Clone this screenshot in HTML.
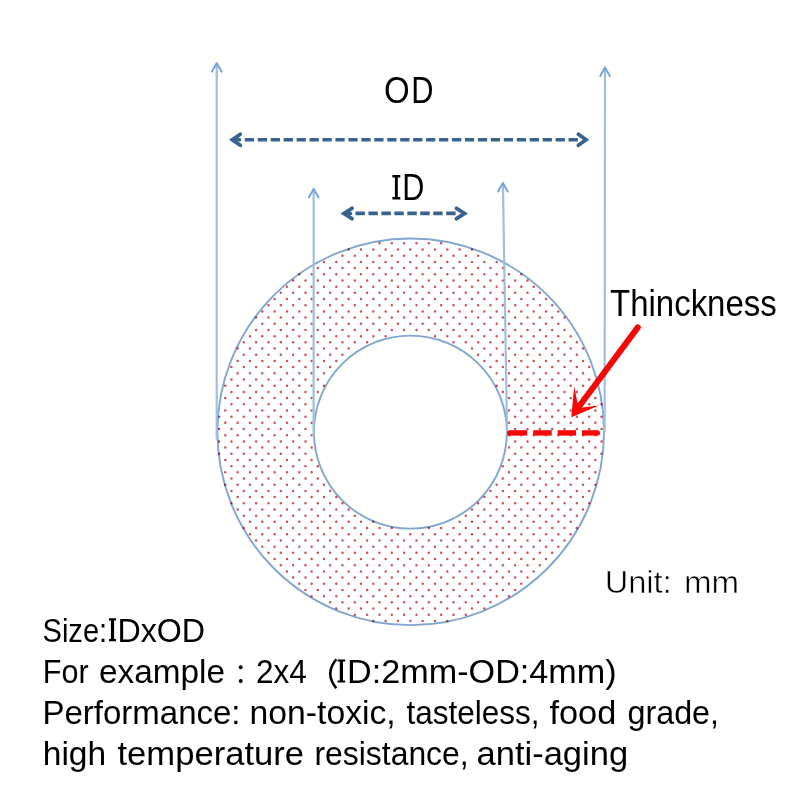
<!DOCTYPE html>
<html>
<head>
<meta charset="utf-8">
<style>
html,body{margin:0;padding:0;background:#fff;width:800px;height:800px;overflow:hidden;}
svg{display:block;}
text{font-family:"Liberation Sans", sans-serif;fill:#000;}
</style>
</head>
<body>
<svg width="800" height="800" viewBox="0 0 800 800">
<rect width="800" height="800" fill="#fff"/>
<circle cx="410.7" cy="431.8" r="193.3" fill="none" stroke="#82a6d0" stroke-width="1.9"/>
<circle cx="410.4" cy="432.1" r="96.5" fill="none" stroke="#82a6d0" stroke-width="1.9"/>
<path fill="none" stroke="#cc5058" stroke-width="2.5" stroke-linecap="round" style="mix-blend-mode:multiply" d="M379.48 243.32h0M391.81 243.32h0M404.14 243.32h0M416.48 243.32h0M428.82 243.32h0M441.15 243.32h0M348.64 249.51h0M360.97 249.51h0M373.31 249.51h0M385.64 249.51h0M397.98 249.51h0M410.31 249.51h0M422.65 249.51h0M434.98 249.51h0M447.32 249.51h0M459.65 249.51h0M471.99 249.51h0M342.47 255.70h0M354.81 255.70h0M367.14 255.70h0M379.48 255.70h0M391.81 255.70h0M404.14 255.70h0M416.48 255.70h0M428.82 255.70h0M441.15 255.70h0M453.49 255.70h0M465.82 255.70h0M478.16 255.70h0M323.97 261.89h0M336.30 261.89h0M348.64 261.89h0M360.97 261.89h0M373.31 261.89h0M385.64 261.89h0M397.98 261.89h0M410.31 261.89h0M422.65 261.89h0M434.98 261.89h0M447.32 261.89h0M459.65 261.89h0M471.99 261.89h0M484.32 261.89h0M496.66 261.89h0M317.80 268.08h0M330.13 268.08h0M342.47 268.08h0M354.81 268.08h0M367.14 268.08h0M379.48 268.08h0M391.81 268.08h0M404.14 268.08h0M416.48 268.08h0M428.82 268.08h0M441.15 268.08h0M453.49 268.08h0M465.82 268.08h0M478.16 268.08h0M490.49 268.08h0M502.83 268.08h0M299.30 274.27h0M311.63 274.27h0M323.97 274.27h0M336.30 274.27h0M348.64 274.27h0M360.97 274.27h0M373.31 274.27h0M385.64 274.27h0M397.98 274.27h0M410.31 274.27h0M422.65 274.27h0M434.98 274.27h0M447.32 274.27h0M459.65 274.27h0M471.99 274.27h0M484.32 274.27h0M496.66 274.27h0M508.99 274.27h0M521.33 274.27h0M293.13 280.46h0M305.47 280.46h0M317.80 280.46h0M330.13 280.46h0M342.47 280.46h0M354.81 280.46h0M367.14 280.46h0M379.48 280.46h0M391.81 280.46h0M404.14 280.46h0M416.48 280.46h0M428.82 280.46h0M441.15 280.46h0M453.49 280.46h0M465.82 280.46h0M478.16 280.46h0M490.49 280.46h0M502.83 280.46h0M515.16 280.46h0M527.50 280.46h0M286.96 286.65h0M299.30 286.65h0M311.63 286.65h0M323.97 286.65h0M336.30 286.65h0M348.64 286.65h0M360.97 286.65h0M373.31 286.65h0M385.64 286.65h0M397.98 286.65h0M410.31 286.65h0M422.65 286.65h0M434.98 286.65h0M447.32 286.65h0M459.65 286.65h0M471.99 286.65h0M484.32 286.65h0M496.66 286.65h0M508.99 286.65h0M521.33 286.65h0M533.66 286.65h0M280.80 292.84h0M293.13 292.84h0M305.47 292.84h0M317.80 292.84h0M330.13 292.84h0M342.47 292.84h0M354.81 292.84h0M367.14 292.84h0M379.48 292.84h0M391.81 292.84h0M404.14 292.84h0M416.48 292.84h0M428.82 292.84h0M441.15 292.84h0M453.49 292.84h0M465.82 292.84h0M478.16 292.84h0M490.49 292.84h0M502.83 292.84h0M515.16 292.84h0M527.50 292.84h0M539.83 292.84h0M274.63 299.03h0M286.96 299.03h0M299.30 299.03h0M311.63 299.03h0M323.97 299.03h0M336.30 299.03h0M348.64 299.03h0M360.97 299.03h0M373.31 299.03h0M385.64 299.03h0M397.98 299.03h0M410.31 299.03h0M422.65 299.03h0M434.98 299.03h0M447.32 299.03h0M459.65 299.03h0M471.99 299.03h0M484.32 299.03h0M496.66 299.03h0M508.99 299.03h0M521.33 299.03h0M533.66 299.03h0M546.00 299.03h0M268.46 305.22h0M280.80 305.22h0M293.13 305.22h0M305.47 305.22h0M317.80 305.22h0M330.13 305.22h0M342.47 305.22h0M354.81 305.22h0M367.14 305.22h0M379.48 305.22h0M391.81 305.22h0M404.14 305.22h0M416.48 305.22h0M428.82 305.22h0M441.15 305.22h0M453.49 305.22h0M465.82 305.22h0M478.16 305.22h0M490.49 305.22h0M502.83 305.22h0M515.16 305.22h0M527.50 305.22h0M539.83 305.22h0M552.16 305.22h0M262.29 311.41h0M274.63 311.41h0M286.96 311.41h0M299.30 311.41h0M311.63 311.41h0M323.97 311.41h0M336.30 311.41h0M348.64 311.41h0M360.97 311.41h0M373.31 311.41h0M385.64 311.41h0M397.98 311.41h0M410.31 311.41h0M422.65 311.41h0M434.98 311.41h0M447.32 311.41h0M459.65 311.41h0M471.99 311.41h0M484.32 311.41h0M496.66 311.41h0M508.99 311.41h0M521.33 311.41h0M533.66 311.41h0M546.00 311.41h0M558.33 311.41h0M256.12 317.60h0M268.46 317.60h0M280.80 317.60h0M293.13 317.60h0M305.47 317.60h0M317.80 317.60h0M330.13 317.60h0M342.47 317.60h0M354.81 317.60h0M367.14 317.60h0M379.48 317.60h0M391.81 317.60h0M404.14 317.60h0M416.48 317.60h0M428.82 317.60h0M441.15 317.60h0M453.49 317.60h0M465.82 317.60h0M478.16 317.60h0M490.49 317.60h0M502.83 317.60h0M515.16 317.60h0M527.50 317.60h0M539.83 317.60h0M552.16 317.60h0M564.50 317.60h0M262.29 323.79h0M274.63 323.79h0M286.96 323.79h0M299.30 323.79h0M311.63 323.79h0M323.97 323.79h0M336.30 323.79h0M348.64 323.79h0M360.97 323.79h0M373.31 323.79h0M385.64 323.79h0M397.98 323.79h0M410.31 323.79h0M422.65 323.79h0M434.98 323.79h0M447.32 323.79h0M459.65 323.79h0M471.99 323.79h0M484.32 323.79h0M496.66 323.79h0M508.99 323.79h0M521.33 323.79h0M533.66 323.79h0M546.00 323.79h0M558.33 323.79h0M256.12 329.98h0M268.46 329.98h0M280.80 329.98h0M293.13 329.98h0M305.47 329.98h0M317.80 329.98h0M330.13 329.98h0M342.47 329.98h0M354.81 329.98h0M367.14 329.98h0M379.48 329.98h0M391.81 329.98h0M404.14 329.98h0M416.48 329.98h0M428.82 329.98h0M441.15 329.98h0M453.49 329.98h0M465.82 329.98h0M478.16 329.98h0M490.49 329.98h0M502.83 329.98h0M515.16 329.98h0M527.50 329.98h0M539.83 329.98h0M552.16 329.98h0M564.50 329.98h0M249.96 336.17h0M262.29 336.17h0M274.63 336.17h0M286.96 336.17h0M299.30 336.17h0M311.63 336.17h0M323.97 336.17h0M336.30 336.17h0M348.64 336.17h0M360.97 336.17h0M373.31 336.17h0M385.64 336.17h0M434.98 336.17h0M447.32 336.17h0M459.65 336.17h0M471.99 336.17h0M484.32 336.17h0M496.66 336.17h0M508.99 336.17h0M521.33 336.17h0M533.66 336.17h0M546.00 336.17h0M558.33 336.17h0M570.67 336.17h0M243.79 342.36h0M256.12 342.36h0M268.46 342.36h0M280.80 342.36h0M293.13 342.36h0M305.47 342.36h0M317.80 342.36h0M330.13 342.36h0M342.47 342.36h0M354.81 342.36h0M367.14 342.36h0M453.49 342.36h0M465.82 342.36h0M478.16 342.36h0M490.49 342.36h0M502.83 342.36h0M515.16 342.36h0M527.50 342.36h0M539.83 342.36h0M552.16 342.36h0M564.50 342.36h0M576.84 342.36h0M237.62 348.55h0M249.96 348.55h0M262.29 348.55h0M274.63 348.55h0M286.96 348.55h0M299.30 348.55h0M311.63 348.55h0M323.97 348.55h0M336.30 348.55h0M348.64 348.55h0M471.99 348.55h0M484.32 348.55h0M496.66 348.55h0M508.99 348.55h0M521.33 348.55h0M533.66 348.55h0M546.00 348.55h0M558.33 348.55h0M570.67 348.55h0M583.00 348.55h0M243.79 354.74h0M256.12 354.74h0M268.46 354.74h0M280.80 354.74h0M293.13 354.74h0M305.47 354.74h0M317.80 354.74h0M330.13 354.74h0M342.47 354.74h0M478.16 354.74h0M490.49 354.74h0M502.83 354.74h0M515.16 354.74h0M527.50 354.74h0M539.83 354.74h0M552.16 354.74h0M564.50 354.74h0M576.84 354.74h0M237.62 360.93h0M249.96 360.93h0M262.29 360.93h0M274.63 360.93h0M286.96 360.93h0M299.30 360.93h0M311.63 360.93h0M323.97 360.93h0M336.30 360.93h0M484.32 360.93h0M496.66 360.93h0M508.99 360.93h0M521.33 360.93h0M533.66 360.93h0M546.00 360.93h0M558.33 360.93h0M570.67 360.93h0M583.00 360.93h0M231.46 367.12h0M243.79 367.12h0M256.12 367.12h0M268.46 367.12h0M280.80 367.12h0M293.13 367.12h0M305.47 367.12h0M317.80 367.12h0M330.13 367.12h0M490.49 367.12h0M502.83 367.12h0M515.16 367.12h0M527.50 367.12h0M539.83 367.12h0M552.16 367.12h0M564.50 367.12h0M576.84 367.12h0M589.17 367.12h0M237.62 373.31h0M249.96 373.31h0M262.29 373.31h0M274.63 373.31h0M286.96 373.31h0M299.30 373.31h0M311.63 373.31h0M323.97 373.31h0M496.66 373.31h0M508.99 373.31h0M521.33 373.31h0M533.66 373.31h0M546.00 373.31h0M558.33 373.31h0M570.67 373.31h0M583.00 373.31h0M231.46 379.50h0M243.79 379.50h0M256.12 379.50h0M268.46 379.50h0M280.80 379.50h0M293.13 379.50h0M305.47 379.50h0M317.80 379.50h0M502.83 379.50h0M515.16 379.50h0M527.50 379.50h0M539.83 379.50h0M552.16 379.50h0M564.50 379.50h0M576.84 379.50h0M589.17 379.50h0M225.29 385.69h0M237.62 385.69h0M249.96 385.69h0M262.29 385.69h0M274.63 385.69h0M286.96 385.69h0M299.30 385.69h0M311.63 385.69h0M323.97 385.69h0M496.66 385.69h0M508.99 385.69h0M521.33 385.69h0M533.66 385.69h0M546.00 385.69h0M558.33 385.69h0M570.67 385.69h0M583.00 385.69h0M595.34 385.69h0M231.46 391.88h0M243.79 391.88h0M256.12 391.88h0M268.46 391.88h0M280.80 391.88h0M293.13 391.88h0M305.47 391.88h0M317.80 391.88h0M502.83 391.88h0M515.16 391.88h0M527.50 391.88h0M539.83 391.88h0M552.16 391.88h0M564.50 391.88h0M576.84 391.88h0M589.17 391.88h0M225.29 398.07h0M237.62 398.07h0M249.96 398.07h0M262.29 398.07h0M274.63 398.07h0M286.96 398.07h0M299.30 398.07h0M311.63 398.07h0M508.99 398.07h0M521.33 398.07h0M533.66 398.07h0M546.00 398.07h0M558.33 398.07h0M570.67 398.07h0M583.00 398.07h0M595.34 398.07h0M231.46 404.26h0M243.79 404.26h0M256.12 404.26h0M268.46 404.26h0M280.80 404.26h0M293.13 404.26h0M305.47 404.26h0M515.16 404.26h0M527.50 404.26h0M539.83 404.26h0M552.16 404.26h0M564.50 404.26h0M576.84 404.26h0M589.17 404.26h0M601.51 404.26h0M225.29 410.45h0M237.62 410.45h0M249.96 410.45h0M262.29 410.45h0M274.63 410.45h0M286.96 410.45h0M299.30 410.45h0M311.63 410.45h0M508.99 410.45h0M521.33 410.45h0M533.66 410.45h0M546.00 410.45h0M558.33 410.45h0M570.67 410.45h0M583.00 410.45h0M595.34 410.45h0M219.12 416.64h0M231.46 416.64h0M243.79 416.64h0M256.12 416.64h0M268.46 416.64h0M280.80 416.64h0M293.13 416.64h0M305.47 416.64h0M515.16 416.64h0M527.50 416.64h0M539.83 416.64h0M552.16 416.64h0M564.50 416.64h0M576.84 416.64h0M589.17 416.64h0M601.51 416.64h0M225.29 422.83h0M237.62 422.83h0M249.96 422.83h0M262.29 422.83h0M274.63 422.83h0M286.96 422.83h0M299.30 422.83h0M311.63 422.83h0M508.99 422.83h0M521.33 422.83h0M533.66 422.83h0M546.00 422.83h0M558.33 422.83h0M570.67 422.83h0M583.00 422.83h0M595.34 422.83h0M219.12 429.02h0M231.46 429.02h0M243.79 429.02h0M256.12 429.02h0M268.46 429.02h0M280.80 429.02h0M293.13 429.02h0M305.47 429.02h0M515.16 429.02h0M527.50 429.02h0M539.83 429.02h0M552.16 429.02h0M564.50 429.02h0M576.84 429.02h0M589.17 429.02h0M601.51 429.02h0M225.29 435.21h0M237.62 435.21h0M249.96 435.21h0M262.29 435.21h0M274.63 435.21h0M286.96 435.21h0M299.30 435.21h0M311.63 435.21h0M508.99 435.21h0M521.33 435.21h0M533.66 435.21h0M546.00 435.21h0M558.33 435.21h0M570.67 435.21h0M583.00 435.21h0M595.34 435.21h0M219.12 441.40h0M231.46 441.40h0M243.79 441.40h0M256.12 441.40h0M268.46 441.40h0M280.80 441.40h0M293.13 441.40h0M305.47 441.40h0M515.16 441.40h0M527.50 441.40h0M539.83 441.40h0M552.16 441.40h0M564.50 441.40h0M576.84 441.40h0M589.17 441.40h0M601.51 441.40h0M225.29 447.59h0M237.62 447.59h0M249.96 447.59h0M262.29 447.59h0M274.63 447.59h0M286.96 447.59h0M299.30 447.59h0M311.63 447.59h0M508.99 447.59h0M521.33 447.59h0M533.66 447.59h0M546.00 447.59h0M558.33 447.59h0M570.67 447.59h0M583.00 447.59h0M595.34 447.59h0M219.12 453.78h0M231.46 453.78h0M243.79 453.78h0M256.12 453.78h0M268.46 453.78h0M280.80 453.78h0M293.13 453.78h0M305.47 453.78h0M515.16 453.78h0M527.50 453.78h0M539.83 453.78h0M552.16 453.78h0M564.50 453.78h0M576.84 453.78h0M589.17 453.78h0M601.51 453.78h0M225.29 459.97h0M237.62 459.97h0M249.96 459.97h0M262.29 459.97h0M274.63 459.97h0M286.96 459.97h0M299.30 459.97h0M311.63 459.97h0M508.99 459.97h0M521.33 459.97h0M533.66 459.97h0M546.00 459.97h0M558.33 459.97h0M570.67 459.97h0M583.00 459.97h0M595.34 459.97h0M231.46 466.16h0M243.79 466.16h0M256.12 466.16h0M268.46 466.16h0M280.80 466.16h0M293.13 466.16h0M305.47 466.16h0M317.80 466.16h0M502.83 466.16h0M515.16 466.16h0M527.50 466.16h0M539.83 466.16h0M552.16 466.16h0M564.50 466.16h0M576.84 466.16h0M589.17 466.16h0M225.29 472.35h0M237.62 472.35h0M249.96 472.35h0M262.29 472.35h0M274.63 472.35h0M286.96 472.35h0M299.30 472.35h0M311.63 472.35h0M508.99 472.35h0M521.33 472.35h0M533.66 472.35h0M546.00 472.35h0M558.33 472.35h0M570.67 472.35h0M583.00 472.35h0M595.34 472.35h0M231.46 478.54h0M243.79 478.54h0M256.12 478.54h0M268.46 478.54h0M280.80 478.54h0M293.13 478.54h0M305.47 478.54h0M317.80 478.54h0M502.83 478.54h0M515.16 478.54h0M527.50 478.54h0M539.83 478.54h0M552.16 478.54h0M564.50 478.54h0M576.84 478.54h0M589.17 478.54h0M225.29 484.73h0M237.62 484.73h0M249.96 484.73h0M262.29 484.73h0M274.63 484.73h0M286.96 484.73h0M299.30 484.73h0M311.63 484.73h0M323.97 484.73h0M496.66 484.73h0M508.99 484.73h0M521.33 484.73h0M533.66 484.73h0M546.00 484.73h0M558.33 484.73h0M570.67 484.73h0M583.00 484.73h0M595.34 484.73h0M231.46 490.92h0M243.79 490.92h0M256.12 490.92h0M268.46 490.92h0M280.80 490.92h0M293.13 490.92h0M305.47 490.92h0M317.80 490.92h0M330.13 490.92h0M490.49 490.92h0M502.83 490.92h0M515.16 490.92h0M527.50 490.92h0M539.83 490.92h0M552.16 490.92h0M564.50 490.92h0M576.84 490.92h0M589.17 490.92h0M237.62 497.11h0M249.96 497.11h0M262.29 497.11h0M274.63 497.11h0M286.96 497.11h0M299.30 497.11h0M311.63 497.11h0M323.97 497.11h0M336.30 497.11h0M484.32 497.11h0M496.66 497.11h0M508.99 497.11h0M521.33 497.11h0M533.66 497.11h0M546.00 497.11h0M558.33 497.11h0M570.67 497.11h0M583.00 497.11h0M231.46 503.30h0M243.79 503.30h0M256.12 503.30h0M268.46 503.30h0M280.80 503.30h0M293.13 503.30h0M305.47 503.30h0M317.80 503.30h0M330.13 503.30h0M342.47 503.30h0M478.16 503.30h0M490.49 503.30h0M502.83 503.30h0M515.16 503.30h0M527.50 503.30h0M539.83 503.30h0M552.16 503.30h0M564.50 503.30h0M576.84 503.30h0M589.17 503.30h0M237.62 509.49h0M249.96 509.49h0M262.29 509.49h0M274.63 509.49h0M286.96 509.49h0M299.30 509.49h0M311.63 509.49h0M323.97 509.49h0M336.30 509.49h0M348.64 509.49h0M471.99 509.49h0M484.32 509.49h0M496.66 509.49h0M508.99 509.49h0M521.33 509.49h0M533.66 509.49h0M546.00 509.49h0M558.33 509.49h0M570.67 509.49h0M583.00 509.49h0M243.79 515.68h0M256.12 515.68h0M268.46 515.68h0M280.80 515.68h0M293.13 515.68h0M305.47 515.68h0M317.80 515.68h0M330.13 515.68h0M342.47 515.68h0M354.81 515.68h0M465.82 515.68h0M478.16 515.68h0M490.49 515.68h0M502.83 515.68h0M515.16 515.68h0M527.50 515.68h0M539.83 515.68h0M552.16 515.68h0M564.50 515.68h0M576.84 515.68h0M249.96 521.87h0M262.29 521.87h0M274.63 521.87h0M286.96 521.87h0M299.30 521.87h0M311.63 521.87h0M323.97 521.87h0M336.30 521.87h0M348.64 521.87h0M360.97 521.87h0M373.31 521.87h0M459.65 521.87h0M471.99 521.87h0M484.32 521.87h0M496.66 521.87h0M508.99 521.87h0M521.33 521.87h0M533.66 521.87h0M546.00 521.87h0M558.33 521.87h0M570.67 521.87h0M243.79 528.06h0M256.12 528.06h0M268.46 528.06h0M280.80 528.06h0M293.13 528.06h0M305.47 528.06h0M317.80 528.06h0M330.13 528.06h0M342.47 528.06h0M354.81 528.06h0M367.14 528.06h0M379.48 528.06h0M391.81 528.06h0M428.82 528.06h0M441.15 528.06h0M453.49 528.06h0M465.82 528.06h0M478.16 528.06h0M490.49 528.06h0M502.83 528.06h0M515.16 528.06h0M527.50 528.06h0M539.83 528.06h0M552.16 528.06h0M564.50 528.06h0M576.84 528.06h0M249.96 534.25h0M262.29 534.25h0M274.63 534.25h0M286.96 534.25h0M299.30 534.25h0M311.63 534.25h0M323.97 534.25h0M336.30 534.25h0M348.64 534.25h0M360.97 534.25h0M373.31 534.25h0M385.64 534.25h0M397.98 534.25h0M410.31 534.25h0M422.65 534.25h0M434.98 534.25h0M447.32 534.25h0M459.65 534.25h0M471.99 534.25h0M484.32 534.25h0M496.66 534.25h0M508.99 534.25h0M521.33 534.25h0M533.66 534.25h0M546.00 534.25h0M558.33 534.25h0M570.67 534.25h0M256.12 540.44h0M268.46 540.44h0M280.80 540.44h0M293.13 540.44h0M305.47 540.44h0M317.80 540.44h0M330.13 540.44h0M342.47 540.44h0M354.81 540.44h0M367.14 540.44h0M379.48 540.44h0M391.81 540.44h0M404.14 540.44h0M416.48 540.44h0M428.82 540.44h0M441.15 540.44h0M453.49 540.44h0M465.82 540.44h0M478.16 540.44h0M490.49 540.44h0M502.83 540.44h0M515.16 540.44h0M527.50 540.44h0M539.83 540.44h0M552.16 540.44h0M564.50 540.44h0M262.29 546.63h0M274.63 546.63h0M286.96 546.63h0M299.30 546.63h0M311.63 546.63h0M323.97 546.63h0M336.30 546.63h0M348.64 546.63h0M360.97 546.63h0M373.31 546.63h0M385.64 546.63h0M397.98 546.63h0M410.31 546.63h0M422.65 546.63h0M434.98 546.63h0M447.32 546.63h0M459.65 546.63h0M471.99 546.63h0M484.32 546.63h0M496.66 546.63h0M508.99 546.63h0M521.33 546.63h0M533.66 546.63h0M546.00 546.63h0M558.33 546.63h0M268.46 552.82h0M280.80 552.82h0M293.13 552.82h0M305.47 552.82h0M317.80 552.82h0M330.13 552.82h0M342.47 552.82h0M354.81 552.82h0M367.14 552.82h0M379.48 552.82h0M391.81 552.82h0M404.14 552.82h0M416.48 552.82h0M428.82 552.82h0M441.15 552.82h0M453.49 552.82h0M465.82 552.82h0M478.16 552.82h0M490.49 552.82h0M502.83 552.82h0M515.16 552.82h0M527.50 552.82h0M539.83 552.82h0M552.16 552.82h0M274.63 559.01h0M286.96 559.01h0M299.30 559.01h0M311.63 559.01h0M323.97 559.01h0M336.30 559.01h0M348.64 559.01h0M360.97 559.01h0M373.31 559.01h0M385.64 559.01h0M397.98 559.01h0M410.31 559.01h0M422.65 559.01h0M434.98 559.01h0M447.32 559.01h0M459.65 559.01h0M471.99 559.01h0M484.32 559.01h0M496.66 559.01h0M508.99 559.01h0M521.33 559.01h0M533.66 559.01h0M546.00 559.01h0M280.80 565.20h0M293.13 565.20h0M305.47 565.20h0M317.80 565.20h0M330.13 565.20h0M342.47 565.20h0M354.81 565.20h0M367.14 565.20h0M379.48 565.20h0M391.81 565.20h0M404.14 565.20h0M416.48 565.20h0M428.82 565.20h0M441.15 565.20h0M453.49 565.20h0M465.82 565.20h0M478.16 565.20h0M490.49 565.20h0M502.83 565.20h0M515.16 565.20h0M527.50 565.20h0M539.83 565.20h0M286.96 571.39h0M299.30 571.39h0M311.63 571.39h0M323.97 571.39h0M336.30 571.39h0M348.64 571.39h0M360.97 571.39h0M373.31 571.39h0M385.64 571.39h0M397.98 571.39h0M410.31 571.39h0M422.65 571.39h0M434.98 571.39h0M447.32 571.39h0M459.65 571.39h0M471.99 571.39h0M484.32 571.39h0M496.66 571.39h0M508.99 571.39h0M521.33 571.39h0M533.66 571.39h0M293.13 577.58h0M305.47 577.58h0M317.80 577.58h0M330.13 577.58h0M342.47 577.58h0M354.81 577.58h0M367.14 577.58h0M379.48 577.58h0M391.81 577.58h0M404.14 577.58h0M416.48 577.58h0M428.82 577.58h0M441.15 577.58h0M453.49 577.58h0M465.82 577.58h0M478.16 577.58h0M490.49 577.58h0M502.83 577.58h0M515.16 577.58h0M527.50 577.58h0M299.30 583.77h0M311.63 583.77h0M323.97 583.77h0M336.30 583.77h0M348.64 583.77h0M360.97 583.77h0M373.31 583.77h0M385.64 583.77h0M397.98 583.77h0M410.31 583.77h0M422.65 583.77h0M434.98 583.77h0M447.32 583.77h0M459.65 583.77h0M471.99 583.77h0M484.32 583.77h0M496.66 583.77h0M508.99 583.77h0M521.33 583.77h0M305.47 589.96h0M317.80 589.96h0M330.13 589.96h0M342.47 589.96h0M354.81 589.96h0M367.14 589.96h0M379.48 589.96h0M391.81 589.96h0M404.14 589.96h0M416.48 589.96h0M428.82 589.96h0M441.15 589.96h0M453.49 589.96h0M465.82 589.96h0M478.16 589.96h0M490.49 589.96h0M502.83 589.96h0M515.16 589.96h0M311.63 596.15h0M323.97 596.15h0M336.30 596.15h0M348.64 596.15h0M360.97 596.15h0M373.31 596.15h0M385.64 596.15h0M397.98 596.15h0M410.31 596.15h0M422.65 596.15h0M434.98 596.15h0M447.32 596.15h0M459.65 596.15h0M471.99 596.15h0M484.32 596.15h0M496.66 596.15h0M508.99 596.15h0M330.13 602.34h0M342.47 602.34h0M354.81 602.34h0M367.14 602.34h0M379.48 602.34h0M391.81 602.34h0M404.14 602.34h0M416.48 602.34h0M428.82 602.34h0M441.15 602.34h0M453.49 602.34h0M465.82 602.34h0M478.16 602.34h0M490.49 602.34h0M336.30 608.53h0M348.64 608.53h0M360.97 608.53h0M373.31 608.53h0M385.64 608.53h0M397.98 608.53h0M410.31 608.53h0M422.65 608.53h0M434.98 608.53h0M447.32 608.53h0M459.65 608.53h0M471.99 608.53h0M484.32 608.53h0M354.81 614.72h0M367.14 614.72h0M379.48 614.72h0M391.81 614.72h0M404.14 614.72h0M416.48 614.72h0M428.82 614.72h0M441.15 614.72h0M453.49 614.72h0M465.82 614.72h0M373.31 620.91h0M385.64 620.91h0M397.98 620.91h0M410.31 620.91h0M422.65 620.91h0M434.98 620.91h0M447.32 620.91h0"/>
<g stroke="#9dbfe2" stroke-width="2.2" fill="none" stroke-linecap="round" stroke-linejoin="round">
<line x1="216.7" y1="63.5" x2="216.7" y2="438.5"/>
<line x1="605" y1="67.5" x2="604.6" y2="432"/>
<line x1="313.7" y1="189" x2="313.6" y2="436"/>
<line x1="502.9" y1="183" x2="507.1" y2="434"/>
</g>
<g stroke="#7aa5d7" stroke-width="2" fill="none" stroke-linecap="round" stroke-linejoin="round">
<polyline points="211.9,71.6 216.7,63.3 221.6,71.6"/>
<polyline points="600.2,76 605,67.5 609.8,76"/>
<polyline points="308.9,197.2 313.7,189 318.5,197.2"/>
<polyline points="498.1,191.4 502.9,183 507.7,191.4"/>
</g>
<g stroke="#39638f" fill="none" stroke-width="3.6">
<line x1="244.8" y1="139.8" x2="577.8" y2="139.8" stroke-dasharray="9.25 3.7"/>
<line x1="355.5" y1="213.4" x2="455.9" y2="213.4" stroke-dasharray="9.4 3.56"/>
</g>
<g stroke="#39638f" fill="none" stroke-width="3.8" stroke-linejoin="miter" stroke-miterlimit="10" stroke-linecap="round">
<polyline points="240.3,134.3 232.3,139.8 240.3,145.3"/>
<line x1="232.6" y1="139.8" x2="239.6" y2="139.8" stroke-width="3.4"/>
<polyline points="578.4,134.3 586.0,139.8 578.4,145.3"/>
<polyline points="352,208.3 344,213.5 352,218.7"/>
<line x1="344" y1="213.5" x2="350.6" y2="213.5" stroke-width="3.4"/>
<polyline points="456.5,208.3 464.5,213.5 456.5,218.7"/>
</g>
<g stroke="#fa0505" stroke-width="5.4">
<line x1="509.7" y1="432.9" x2="527.2" y2="432.9"/>
<line x1="533.2" y1="432.9" x2="551.7" y2="432.9"/>
<line x1="557.7" y1="432.9" x2="576" y2="432.9"/>
<line x1="582" y1="432.9" x2="597.3" y2="432.9"/>
<circle cx="509.7" cy="432.9" r="2.7" fill="#fa0505" stroke="none"/>
<circle cx="597.3" cy="432.9" r="2.7" fill="#fa0505" stroke="none"/>
</g>
<line x1="637.8" y1="327.4" x2="580" y2="405.3" stroke="#fa0505" stroke-width="6" stroke-linecap="round"/>
<path d="M571.3,417.3 L574.2,386.6 L577.6,403.2 L580,405.3 L582.4,407.4 L599,405.5 Z" fill="#fa0505"/>
<text x="384.0" y="102.9" font-size="36" textLength="25.68" lengthAdjust="spacingAndGlyphs">O</text>
<text x="411.2" y="102.9" font-size="36" textLength="22.23" lengthAdjust="spacingAndGlyphs">D</text>
<text x="402.2" y="199.6" font-size="36" textLength="22.1" lengthAdjust="spacingAndGlyphs">D</text>
<path d="M392.4 175.1h7.9v2.5h-2.5v19.5h2.5v2.5h-7.9v-2.5h2.5v-19.5h-2.5z" fill="#000"/>
<text x="610.1" y="315.9" font-size="36" textLength="166.6" lengthAdjust="spacingAndGlyphs">Thinckness</text>
<text x="604.68" y="592.9" font-size="31" textLength="67.06" lengthAdjust="spacingAndGlyphs" stroke="#fff" stroke-width="0.55">Unit:</text>
<text x="684.0" y="592.9" font-size="31" textLength="55.14" lengthAdjust="spacingAndGlyphs" stroke="#fff" stroke-width="0.55">mm</text>
<text x="42.5" y="641.7" font-size="33.4" textLength="64.69" lengthAdjust="spacingAndGlyphs">Size:</text>
<path d="M109 618.3h7v2.2h-1.9v18.6h1.9v2.2h-7v-2.2h1.9v-18.6h-1.9z" fill="#000"/>
<text x="117.5" y="641.7" font-size="33.4" textLength="87.62" lengthAdjust="spacingAndGlyphs">DxOD</text>
<text x="42.75" y="682.8" font-size="33.4" textLength="45.84" lengthAdjust="spacingAndGlyphs">For</text>
<text x="99.0" y="682.8" font-size="33.4" textLength="125.96" lengthAdjust="spacingAndGlyphs">example</text>
<circle cx="240.7" cy="667.3" r="1.95" fill="#000"/>
<circle cx="240.7" cy="681" r="1.95" fill="#000"/>
<text x="256.0" y="682.8" font-size="33.4" textLength="50.83" lengthAdjust="spacingAndGlyphs">2x4</text>
<path d="M336.3 659.2Q324.3 673.6 336.3 688.2" fill="none" stroke="#000" stroke-width="2.5"/>
<path d="M337.6 659.4h7.6v2.2h-2.2v18.8h2.2v2.2h-7.6v-2.2h2.2v-18.8h-2.2z" fill="#000"/>
<text x="347.1" y="682.8" font-size="33.4" textLength="269.59" lengthAdjust="spacingAndGlyphs">D:2mm-OD:4mm)</text>
<text x="42.5" y="723.6" font-size="33.4" textLength="198.03" lengthAdjust="spacingAndGlyphs">Performance:</text>
<text x="249.6" y="723.6" font-size="33.4" textLength="146.12" lengthAdjust="spacingAndGlyphs">non-toxic,</text>
<text x="406.5" y="723.6" font-size="33.4" textLength="132.99" lengthAdjust="spacingAndGlyphs">tasteless,</text>
<text x="549.4" y="723.6" font-size="33.4" textLength="66.86" lengthAdjust="spacingAndGlyphs">food</text>
<text x="627.5" y="723.6" font-size="33.4" textLength="91.56" lengthAdjust="spacingAndGlyphs">grade,</text>
<text x="42.75" y="764.7" font-size="33.4" textLength="63.4" lengthAdjust="spacingAndGlyphs">high</text>
<text x="117.5" y="764.7" font-size="33.4" textLength="186.53" lengthAdjust="spacingAndGlyphs">temperature</text>
<text x="314.5" y="764.7" font-size="33.4" textLength="154.15" lengthAdjust="spacingAndGlyphs">resistance,</text>
<text x="476.5" y="764.7" font-size="33.4" textLength="151.58" lengthAdjust="spacingAndGlyphs">anti-aging</text>
</svg>
</body>
</html>
